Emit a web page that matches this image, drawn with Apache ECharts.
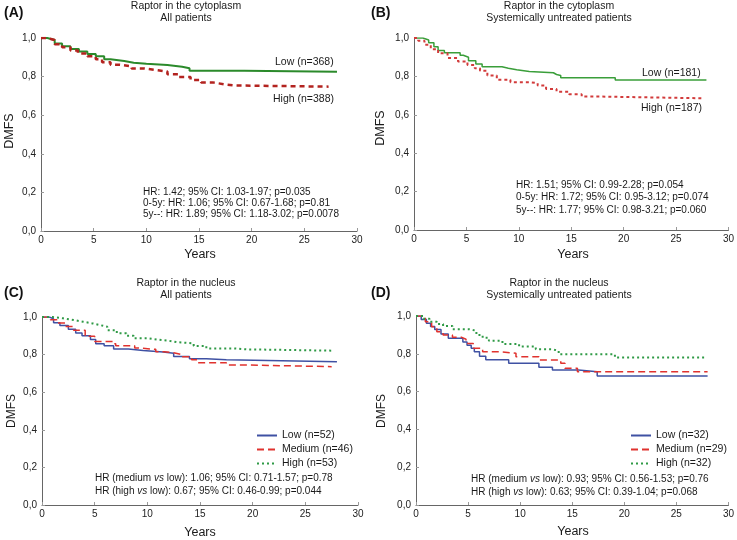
<!DOCTYPE html>
<html><head><meta charset="utf-8">
<script src="https://cdn.jsdelivr.net/npm/echarts@6/dist/echarts.min.js"></script>
<style>html,body{margin:0;padding:0;background:#fff}#c{width:737px;height:540px}</style>
</head><body><div id="c"></div>
<script>
// ---- Data (years, DMFS) ----
const aLowT  = [0, 0.6, 1.3, 2.0, 2.8, 3.6, 4.4, 5.2, 6.0, 6.6, 7.9, 8.8, 10.0, 12.0, 13.4, 14.1, 19.3, 28.1];
const aLowS  = [1, 0.99, 0.972, 0.957, 0.943, 0.93, 0.917, 0.905, 0.89, 0.881, 0.872, 0.866, 0.86, 0.851, 0.843, 0.83, 0.825, 0.825];
const aHighT = [0, 0.6, 1.3, 2.0, 2.8, 3.5, 4.4, 5.2, 5.8, 6.6, 7.5, 8.6, 9.8, 11.1, 12.0, 13.0, 14.2, 15.2, 16.3, 17.4, 18.4, 27.3];
const aHighS = [1, 0.99, 0.968, 0.952, 0.935, 0.92, 0.905, 0.89, 0.875, 0.862, 0.853, 0.842, 0.833, 0.826, 0.812, 0.798, 0.782, 0.77, 0.76, 0.754, 0.748, 0.748];

const bLowT  = [0, 0.85, 1.4, 1.9, 2.3, 2.9, 4.4, 4.7, 5.2, 5.9, 6.5, 8.4, 9.0, 9.8, 11.0, 13.3, 13.6, 14.0, 19.2, 27.9];
const bLowS  = [1, 0.99, 0.975, 0.955, 0.935, 0.923, 0.91, 0.9, 0.882, 0.865, 0.85, 0.843, 0.835, 0.826, 0.819, 0.81, 0.805, 0.793, 0.781, 0.781];
const bHighT = [0, 0.4, 1.0, 1.6, 2.3, 3.2, 4.2, 5.1, 5.8, 6.3, 7.0, 7.9, 9.2, 11.0, 11.8, 12.6, 13.6, 14.8, 16.0, 17.8, 27.6];
const bHighS = [1, 0.986, 0.965, 0.942, 0.92, 0.896, 0.878, 0.86, 0.842, 0.83, 0.805, 0.783, 0.77, 0.765, 0.752, 0.735, 0.72, 0.707, 0.695, 0.686, 0.686];

const cLowT  = [0, 0.7, 1.1, 1.7, 2.5, 3.2, 3.8, 4.6, 5.1, 5.9, 6.8, 8.2, 9.6, 11.5, 12.5, 14.0, 15.6, 17.5, 28.0];
const cLowS  = [1, 0.99, 0.97, 0.955, 0.935, 0.915, 0.9, 0.88, 0.858, 0.847, 0.83, 0.822, 0.814, 0.807, 0.79, 0.778, 0.772, 0.762, 0.762];
const cMedT  = [0, 0.8, 1.4, 2.2, 3.0, 4.1, 5.0, 6.7, 7.0, 8.8, 9.2, 10.8, 11.6, 12.5, 13.3, 14.2, 14.8, 17.5, 19.0, 27.5];
const cMedS  = [1, 0.985, 0.968, 0.95, 0.93, 0.897, 0.87, 0.858, 0.847, 0.835, 0.828, 0.815, 0.81, 0.8, 0.789, 0.772, 0.757, 0.745, 0.736, 0.736];
const cHighT = [0, 1.0, 2.0, 3.0, 3.9, 4.8, 5.5, 6.2, 7.1, 8.0, 8.7, 10.0, 10.9, 12.0, 12.8, 14.4, 15.6, 18.2, 19.4, 27.5];
const cHighS = [1, 0.993, 0.984, 0.975, 0.966, 0.957, 0.948, 0.93, 0.913, 0.9, 0.887, 0.88, 0.874, 0.866, 0.86, 0.846, 0.833, 0.828, 0.821, 0.821];

const dLowT  = [0, 0.5, 1.0, 1.4, 1.8, 2.4, 3.1, 4.5, 4.9, 5.3, 5.6, 6.1, 6.7, 8.9, 11.8, 13.1, 15.6, 17.4, 28.0];
const dLowS  = [1, 0.982, 0.961, 0.945, 0.929, 0.905, 0.882, 0.862, 0.845, 0.83, 0.811, 0.787, 0.768, 0.75, 0.729, 0.714, 0.705, 0.683, 0.683];
const dMedT  = [0, 0.9, 1.5, 2.0, 2.6, 3.5, 4.4, 4.8, 5.5, 6.4, 8.0, 9.6, 11.8, 13.9, 14.3, 15.5, 28.0];
const dMedS  = [1, 0.97, 0.943, 0.917, 0.9, 0.887, 0.877, 0.855, 0.829, 0.811, 0.803, 0.785, 0.767, 0.75, 0.723, 0.705, 0.705];
const dHighT = [0, 0.7, 1.3, 2.0, 2.6, 3.5, 5.1, 5.8, 6.4, 7.0, 8.3, 9.9, 11.5, 13.1, 13.7, 19.1, 27.7];
const dHighS = [1, 0.985, 0.97, 0.958, 0.947, 0.93, 0.922, 0.9, 0.885, 0.869, 0.852, 0.838, 0.824, 0.816, 0.797, 0.78, 0.78];

const xTicks = [0, 5, 10, 15, 20, 25, 30];
const yTicks = [0, 0.2, 0.4, 0.6, 0.8, 1.0];

const titlesTop = ["Raptor in the cytoplasm", "Raptor in the cytoplasm", "Raptor in the nucleus", "Raptor in the nucleus"];
const titlesSub = ["All patients", "Systemically untreated patients", "All patients", "Systemically untreated patients"];
const panelLetters = ["(A)", "(B)", "(C)", "(D)"];
const aLabels = ["Low (n=368)", "High (n=388)"];
const bLabels = ["Low (n=181)", "High (n=187)"];
const cLegend = ["Low (n=52)", "Medium (n=46)", "High (n=53)"];
const dLegend = ["Low (n=32)", "Medium (n=29)", "High (n=32)"];
const aStats = ["HR: 1.42; 95% CI: 1.03-1.97; p=0.035", "0-5y: HR: 1.06; 95% CI: 0.67-1.68; p=0.81", "5y--: HR: 1.89; 95% CI: 1.18-3.02; p=0.0078"];
const bStats = ["HR: 1.51; 95% CI: 0.99-2.28; p=0.054", "0-5y: HR: 1.72; 95% CI: 0.95-3.12; p=0.074", "5y--: HR: 1.77; 95% CI: 0.98-3.21; p=0.060"];
const cStats = [["HR (medium ", "vs", " low): 1.06; 95% CI: 0.71-1.57; p=0.78"], ["HR (high ", "vs", " low): 0.67; 95% CI: 0.46-0.99; p=0.044"]];
const dStats = [["HR (medium ", "vs", " low): 0.93; 95% CI: 0.56-1.53; p=0.76"], ["HR (high ", "vs", " low): 0.63; 95% CI: 0.39-1.04; p=0.068"]];

// ---- Build ----
const FONT = '"Liberation Sans", Arial, sans-serif';
const zip = (t, s) => t.map((v, i) => [v, s[i]]);
const grids = [
  {left: 41, top: 38, width: 316, height: 193},
  {left: 414, top: 38, width: 317, height: 192},
  {left: 42, top: 317, width: 316, height: 188},
  {left: 416, top: 316, width: 315, height: 189}
];
const xAxes = grids.map((g, i) => ({
  gridIndex: i, type: 'value', min: xTicks[0], max: xTicks[xTicks.length - 1], interval: 5,
  axisLine: {lineStyle: {color: '#666', width: 1}},
  axisTick: {show: true, inside: true, length: 3, lineStyle: {color: '#999'}},
  axisLabel: {fontFamily: FONT, fontSize: 10, color: '#222', margin: 4},
  splitLine: {show: false}
}));
const yAxes = grids.map((g, i) => ({
  gridIndex: i, type: 'value', min: yTicks[0], max: yTicks[yTicks.length - 1], interval: 0.2,
  axisLine: {show: true, lineStyle: {color: '#666', width: 1}},
  axisTick: {show: true, inside: true, length: 3, lineStyle: {color: '#999'}},
  axisLabel: {fontFamily: FONT, fontSize: 10, color: '#222', margin: 5, formatter: v => v.toFixed(1).replace('.', ',')},
  splitLine: {show: false}
}));
function km(name, idx, t, s, color, width, type) {
  return {name, type: 'line', xAxisIndex: idx, yAxisIndex: idx, step: 'end', data: zip(t, s),
    showSymbol: false, symbol: 'none', animation: false, silent: true,
    lineStyle: {color, width, type}, itemStyle: {color}};
}
const GREEN_A = '#2b8a2b', RED_A = '#b3231f';
const GREEN_B = '#3a9e3a', RED_B = '#d23b3b';
const BLUE = '#3f51a3', RED = '#e0322e', GREEN = '#2f9a46';
const series = [
  km(aLabels[0], 0, aLowT, aLowS, GREEN_A, 2, 'solid'),
  km(aLabels[1], 0, aHighT, aHighS, RED_A, 2.5, [5, 4]),
  km(bLabels[0], 1, bLowT, bLowS, GREEN_B, 1.5, 'solid'),
  km(bLabels[1], 1, bHighT, bHighS, RED_B, 2, [3, 3]),
  km(cLegend[0], 2, cLowT, cLowS, BLUE, 1.5, 'solid'),
  km(cLegend[1], 2, cMedT, cMedS, RED, 1.5, [7, 4]),
  km(cLegend[2], 2, cHighT, cHighS, GREEN, 2, [2, 3]),
  km(dLegend[0], 3, dLowT, dLowS, BLUE, 1.5, 'solid'),
  km(dLegend[1], 3, dMedT, dMedS, RED, 1.5, [7, 4]),
  km(dLegend[2], 3, dHighT, dHighS, GREEN, 2, [2, 3])
];
const txt = (x, y, text, o = {}) => ({type: 'text', x, y, silent: true, style: Object.assign({text, fontFamily: FONT, fontSize: 10.5, fill: '#1a1a1a', align: 'left', verticalAlign: 'middle'}, o)});
const graphics = [];
const titleX = [186, 559, 186, 559], titleY = [6, 6, 283, 283];
const letterX = [4, 371, 4, 371], letterY = [13, 13, 293, 293];
for (let i = 0; i < 4; i++) {
  graphics.push(txt(titleX[i], titleY[i], titlesTop[i], {align: 'center', fontSize: 10.5}));
  graphics.push(txt(titleX[i], titleY[i] + 12, titlesSub[i], {align: 'center', fontSize: 10.5}));
  graphics.push(txt(letterX[i], letterY[i], panelLetters[i], {fontSize: 14, fontWeight: 'bold', fill: '#111'}));
}
const yearsX = [200, 573, 200, 573], yearsY = [255, 255, 533, 532];
const dmfsX = [10, 381, 12, 382], dmfsY = [131, 128, 411, 411];
for (let i = 0; i < 4; i++) {
  graphics.push(txt(yearsX[i], yearsY[i], 'Years', {align: 'center', fontSize: 12.5}));
  graphics.push(Object.assign(txt(dmfsX[i], dmfsY[i], 'DMFS', {align: 'center', fontSize: i < 2 ? 12.5 : 12}), {rotation: Math.PI / 2}));
}
graphics.push(txt(275, 62, aLabels[0]));
graphics.push(txt(273, 99, aLabels[1]));
graphics.push(txt(642, 73, bLabels[0]));
graphics.push(txt(641, 108, bLabels[1]));
aStats.forEach((s, k) => graphics.push(txt(143, 192 + k * 11, s, {fontSize: 10})));
bStats.forEach((s, k) => graphics.push(txt(516, 185 + k * 12.5, s, {fontSize: 10})));
function rich(x, y, parts) {
  return {type: 'text', x, y, silent: true, style: {
    text: '{n|' + parts[0] + '}{i|' + parts[1] + '}{n|' + parts[2] + '}',
    verticalAlign: 'middle', align: 'left',
    rich: {n: {fontFamily: FONT, fontSize: 10, fill: '#1a1a1a'}, i: {fontFamily: FONT, fontSize: 10, fontStyle: 'italic', fill: '#1a1a1a'}}
  }};
}
cStats.forEach((p, k) => graphics.push(rich(95, 478 + k * 13, p)));
dStats.forEach((p, k) => graphics.push(rich(471, 479 + k * 13, p)));

const legendBase = {orient: 'vertical', itemWidth: 20, itemHeight: 10, itemGap: 3, padding: 0, itemStyle: {opacity: 0},
  textStyle: {fontFamily: FONT, fontSize: 10.5, color: '#1a1a1a'}, selectedMode: false};
const option = {
  animation: false,
  backgroundColor: '#fff',
  grid: grids,
  xAxis: xAxes,
  yAxis: yAxes,
  legend: [
    Object.assign({}, legendBase, {left: 256, top: 430, data: cLegend}),
    Object.assign({}, legendBase, {left: 630, top: 430, data: dLegend})
  ],
  series,
  graphic: graphics
};
const chart = echarts.init(document.getElementById('c'), null, {renderer: 'canvas'});
chart.setOption(option);
</script></body></html>
